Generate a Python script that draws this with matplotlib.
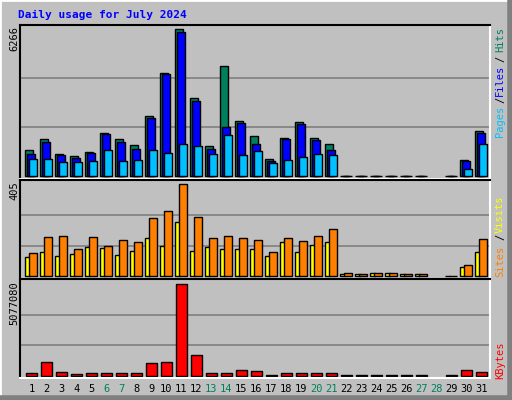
import matplotlib
matplotlib.use('Agg')
import matplotlib.pyplot as plt
import numpy as np

days = list(range(1, 32))
hits = [1097, 1581, 926, 840, 1011, 1823, 1581, 1310, 2549, 4400, 6266, 3318, 1267, 4685, 2350, 1695,
        712, 1609, 2293, 1609, 1353, 5, 5, 5, 5, 5, 5, 0, 5, 669, 1908]
files = [926, 1438, 897, 755, 968, 1780, 1438, 1153, 2464, 4343, 6138, 3204, 1153, 2093, 2250, 1353,
         641, 1566, 2207, 1524, 1097, 5, 5, 5, 5, 5, 5, 0, 5, 627, 1823]
pages = [712, 712, 584, 584, 627, 1097, 627, 669, 1097, 968, 1353, 1267, 926, 1737, 883, 1054,
         541, 669, 797, 926, 883, 5, 5, 5, 5, 5, 5, 0, 5, 285, 1353]
sites = [84, 106, 88, 97, 128, 123, 92, 110, 167, 132, 238, 110, 128, 119, 119, 119,
         88, 150, 106, 136, 150, 10, 9, 13, 13, 9, 9, 0, 1, 40, 106]
visits = [101, 172, 176, 119, 172, 132, 158, 150, 255, 286, 405, 260, 167, 176, 167, 158,
          106, 167, 154, 176, 207, 13, 9, 13, 13, 9, 9, 0, 1, 48, 163]
kbytes = [130000, 741000, 185000, 74000, 130000, 130000, 130000, 130000, 686000, 741000, 5077080,
          1130000, 130000, 130000, 296000, 241000, 37000, 130000, 130000, 130000, 130000,
          37000, 37000, 37000, 37000, 37000, 37000, 0, 37000, 296000, 185000]
weekends = [6, 7, 13, 14, 20, 21, 27, 28]

BG = '#c0c0c0'
W, H = 512, 400
fig = plt.figure(figsize=(5.12, 4.0), dpi=100, facecolor=BG)

def rect(x0, y0, x1, y1):
    return [x0 / W, 1 - y1 / H, (x1 - x0) / W, (y1 - y0) / H]

def panel(y0, y1, lo, hi, vmax):
    ax = fig.add_axes(rect(20, y0, 490, y1))
    ax.set_facecolor(BG)
    ax.set_xlim(-1 / 3, 31)
    ax.set_ylim(lo, hi)
    for f in (1 / 3, 2 / 3):
        ax.axhline(vmax * f, color='#808080', lw=1.2, zorder=0)
    ax.set_xticks([])
    ax.set_yticks([])
    for s in ('top', 'left'):
        ax.spines[s].set_color('black')
        ax.spines[s].set_linewidth(1.5)
    for s in ('bottom', 'right'):
        ax.spines[s].set_color('white')
        ax.spines[s].set_linewidth(1.5)
    return ax

def bars(ax, vals, off, w, color):
    for i, v in enumerate(vals):
        if v > 0:
            ax.bar(i + off, v, w, align='edge', color=color, edgecolor='black', lw=1.0)

ax1 = panel(25, 179, -128, 6436, 6266)
bars(ax1, hits, 0.0, 0.53, '#00805c')
bars(ax1, files, 0.11, 0.55, '#0000ff')
bars(ax1, pages, 0.27, 0.51, '#00c0ff')

ax2 = panel(180, 279, -12, 424, 405)
bars(ax2, sites, 0.0, 0.31, '#ffff00')
bars(ax2, visits, 0.27, 0.51, '#ff8000')

ax3 = panel(279, 378, -128000, 5371000, 5077080)
bars(ax3, kbytes, 0.07, 0.71, '#ff0000')

mono = 'DejaVu Sans Mono'
for d in days:
    c = '#00805c' if d in weekends else 'black'
    ax3.text(d - 1 + 0.43, -0.11, str(d), transform=ax3.get_xaxis_transform(),
             ha='center', va='center', fontsize=7.5, color=c, family=mono)

fig.text(18 / W, 1 - 15 / H, 'Daily usage for July 2024', color='#0000ff',
         fontsize=8, fontweight='bold', family=mono, va='center')

for txt, ytop in (('6266', 26), ('405', 181), ('5077080', 281)):
    fig.text(14 / W, 1 - ytop / H, txt, rotation=90, ha='center', va='top',
             fontsize=7.5, family=mono)

def side(parts):
    for txt, yc, col in parts:
        fig.text(500 / W, 1 - yc / H, txt, rotation=90, ha='center', va='center',
                 fontsize=7.5, family=mono, color=col)

side([('Hits', 40, '#00805c'), ('/', 59, 'black'), ('Files', 80, '#0000ff'),
      ('/', 100, 'black'), ('Pages', 121, '#00c0ff')])
side([('Visits', 214, '#ffff00'), ('/', 237, 'black'), ('Sites', 261, '#ff8000')])
side([('KBytes', 360, '#ff0000')])

# bevel frame
fig.add_artist(plt.Line2D([0, 0], [0, 1], color='white', lw=2, transform=fig.transFigure))
fig.add_artist(plt.Line2D([0, 1], [1, 1], color='white', lw=2, transform=fig.transFigure))
fig.add_artist(plt.Line2D([1 - 2 / W, 1 - 2 / W], [0, 1], color='#808080', lw=4, transform=fig.transFigure))
fig.add_artist(plt.Line2D([0, 1], [2 / H, 2 / H], color='#808080', lw=4, transform=fig.transFigure))

fig.savefig('out.png', dpi=100, facecolor=BG)
